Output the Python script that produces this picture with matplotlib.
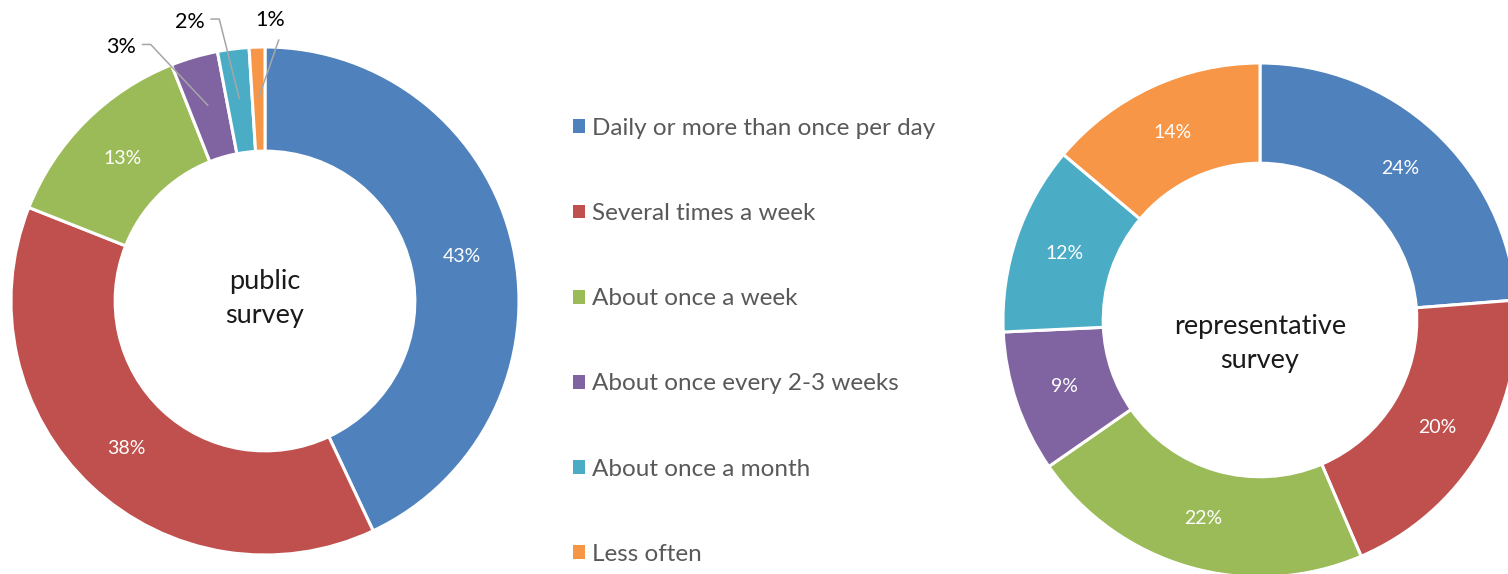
import matplotlib
matplotlib.use("Agg")
from matplotlib import pyplot as plt
from matplotlib.patches import Patch
import numpy as np

plt.rcParams['font.family'] = ['Lato', 'DejaVu Sans']

# data
categories = ["Daily or more than once per day", "Several times a week",
              "About once a week", "About once every 2-3 weeks",
              "About once a month", "Less often"]
public_vals = [43, 38, 13, 3, 2, 1]
repr_vals = [24, 20, 22, 9, 12, 14]
colors = ["#4F81BD", "#C0504D", "#9BBB59", "#8064A2", "#4BACC6", "#F79646"]

W, H = 1508, 574
fig = plt.figure(figsize=(W / 100, H / 100), dpi=100)


def donut_axes(cx, cy, r):
    # axes box in pixel terms -> figure fractions
    return fig.add_axes([(cx - r) / W, (H - cy - r) / H, 2 * r / W, 2 * r / H])


def donut(ax, vals, title, width, title_y=0.0, inside_min=5):
    wedges, _ = ax.pie(vals, colors=colors, startangle=90, counterclock=False,
                       radius=1, wedgeprops=dict(width=width, edgecolor='white', linewidth=2.2))
    mid = 1 - width / 2
    for w, v in zip(wedges, vals):
        ang = np.deg2rad((w.theta1 + w.theta2) / 2)
        if v >= inside_min:
            ax.text(mid * np.cos(ang), mid * np.sin(ang), f"{v}%",
                    ha='center', va='center', color='white', fontsize=14)
    ax.text(0, title_y, title, ha='center', va='center', fontsize=19.5,
            color='#1a1a1a', linespacing=1.45)
    ax.set_xlim(-1, 1)
    ax.set_ylim(-1, 1)
    ax.set_aspect('equal')
    ax.axis('off')
    return wedges


# left donut
ax1 = donut_axes(265, 301, 254)
w1 = donut(ax1, public_vals, "public\nsurvey", width=0.41, title_y=0.01)

# outside labels for the tiny slices (label position)
out_pos = {3: (-0.565, 1.0), 4: (-0.295, 1.10), 5: (0.02, 1.105)}
for i, (lx, ly) in out_pos.items():
    w = w1[i]
    ang = np.deg2rad((w.theta1 + w.theta2) / 2)
    px, py = 0.8 * np.cos(ang), 0.8 * np.sin(ang)
    ax1.text(lx, ly, f"{public_vals[i]}%", ha='center', va='center',
             fontsize=15.5, color='black')
    if i == 5:
        xs, ys = [lx + 0.035, px], [ly - 0.075, py]
    else:
        sx = lx + 0.08
        xs, ys = [sx, sx + 0.035, px], [ly + 0.01, ly + 0.01, py]
    ax1.plot(xs, ys, color='#a6a6a6', lw=1.1, solid_capstyle='butt', clip_on=False)

# right donut
ax2 = donut_axes(1260, 320, 257)
donut(ax2, repr_vals, "representative\nsurvey", width=0.39, title_y=-0.09)

# legend
handles = [Patch(facecolor=c, edgecolor='none') for c in colors]
fig.legend(handles, categories, loc='upper left', bbox_to_anchor=(573 / W, 1 - 118 / H),
           frameon=False, fontsize=17.5, labelcolor='#595959',
           handlelength=0.5, handleheight=0.5, handletextpad=0.28,
           labelspacing=2.64, borderpad=0, borderaxespad=0)

fig.savefig("out.png", dpi=100)
